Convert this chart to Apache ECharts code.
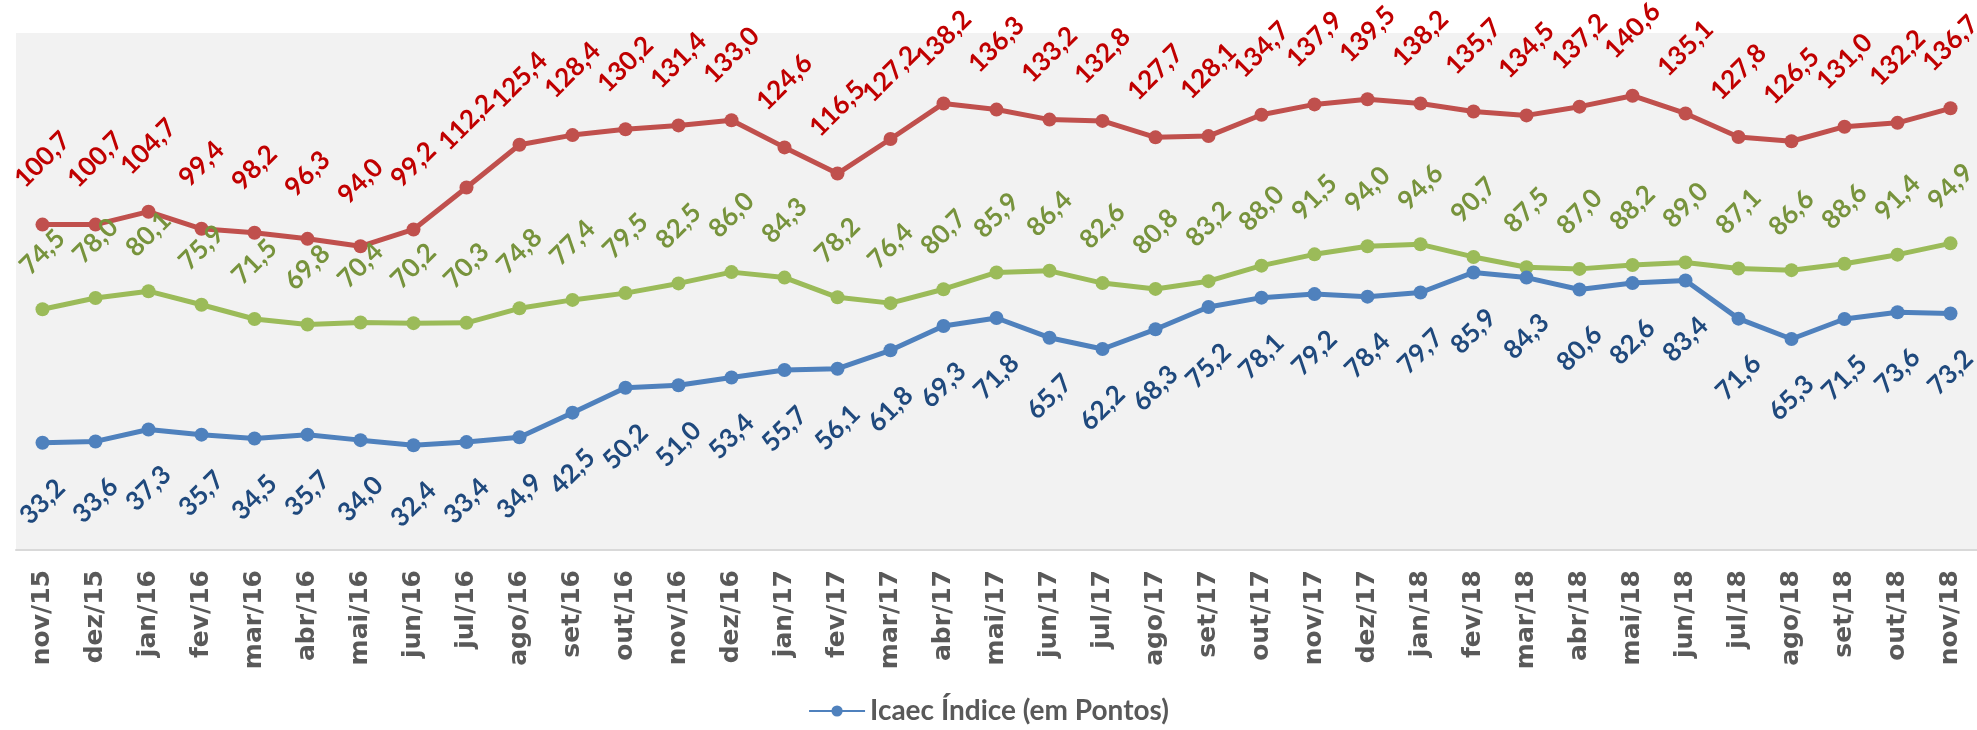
<!DOCTYPE html>
<html>
<head>
<meta charset="utf-8">
<script src="https://cdn.jsdelivr.net/npm/echarts@6/dist/echarts.min.js"></script>
<style>
  html, body { margin: 0; padding: 0; background: #ffffff; }
  #main { width: 1977px; height: 730px; }
</style>
</head>
<body>
<div id="main"></div>
<script>
// meses de nov/15 a nov/18
const meses = ['nov/15','dez/15','jan/16','fev/16','mar/16','abr/16','mai/16','jun/16','jul/16','ago/16',
  'set/16','out/16','nov/16','dez/16','jan/17','fev/17','mar/17','abr/17','mai/17','jun/17',
  'jul/17','ago/17','set/17','out/17','nov/17','dez/17','jan/18','fev/18','mar/18','abr/18',
  'mai/18','jun/18','jul/18','ago/18','set/18','out/18','nov/18'];

const serieVermelha = [100.7,100.7,104.7,99.4,98.2,96.3,94.0,99.2,112.2,125.4,
  128.4,130.2,131.4,133.0,124.6,116.5,127.2,138.2,136.3,133.2,
  132.8,127.7,128.1,134.7,137.9,139.5,138.2,135.7,134.5,137.2,
  140.6,135.1,127.8,126.5,131.0,132.2,136.7];

const serieVerde = [74.5,78.0,80.1,75.9,71.5,69.8,70.4,70.2,70.3,74.8,
  77.4,79.5,82.5,86.0,84.3,78.2,76.4,80.7,85.9,86.4,
  82.6,80.8,83.2,88.0,91.5,94.0,94.6,90.7,87.5,87.0,
  88.2,89.0,87.1,86.6,88.6,91.4,94.9];

// Icaec Índice (em Pontos)
const icaec = [33.2,33.6,37.3,35.7,34.5,35.7,34.0,32.4,33.4,34.9,
  42.5,50.2,51.0,53.4,55.7,56.1,61.8,69.3,71.8,65.7,
  62.2,68.3,75.2,78.1,79.2,78.4,79.7,85.9,84.3,80.6,
  82.6,83.4,71.6,65.3,71.5,73.6,73.2];

const fmt = p => p.value.toFixed(1).replace('.', ',');

function rotulo(cor, pos, dist){
  return {
    show: true,
    position: pos,
    distance: dist,
    rotate: 45,
    align: 'center',
    verticalAlign: 'middle',
    color: cor,
    fontFamily: 'Lato',
    fontWeight: 'bold',
    fontSize: 26,
    formatter: fmt
  };
}

function serie(nome, dados, corLinha, corRotulo, pos, dist){
  return {
    name: nome,
    type: 'line',
    data: dados,
    symbol: 'circle',
    symbolSize: 14,
    clip: false,
    lineStyle: { color: corLinha, width: 5 },
    itemStyle: { color: corLinha },
    label: rotulo(corRotulo, pos, dist)
  };
}

var myChart = echarts.init(document.getElementById('main'));
var option = {
  animation: false,
  grid: {
    left: 16, right: 0, top: 33, bottom: 180,
    show: true, backgroundColor: '#F2F2F2', borderWidth: 0
  },
  legend: {
    data: ['Icaec Índice (em Pontos)'],
    bottom: 0,
    left: 'center',
    itemWidth: 56,
    itemHeight: 14,
    itemGap: 6,
    textStyle: { color: '#595959', fontFamily: 'Lato', fontWeight: 'bold', fontSize: 28 }
  },
  xAxis: {
    type: 'category',
    data: meses,
    boundaryGap: true,
    axisLine: { lineStyle: { color: '#D9D9D9', width: 2 } },
    axisTick: { show: false },
    axisLabel: {
      rotate: 90,
      margin: 20,
      interval: 0,
      color: '#595959',
      fontFamily: 'DejaVu Sans',
      fontWeight: 'bold',
      fontSize: 25
    }
  },
  yAxis: {
    type: 'value',
    min: 0,
    max: 160,
    show: false,
    splitLine: { show: false }
  },
  series: [
    serie('Série vermelha', serieVermelha, '#C0504D', '#C00000', 'top', 58),
    serie('Série verde', serieVerde, '#9BBB59', '#77933C', 'top', 50),
    serie('Icaec Índice (em Pontos)', icaec, '#4F81BD', '#1F497D', 'bottom', 52)
  ]
};
myChart.setOption(option);
</script>
</body>
</html>
